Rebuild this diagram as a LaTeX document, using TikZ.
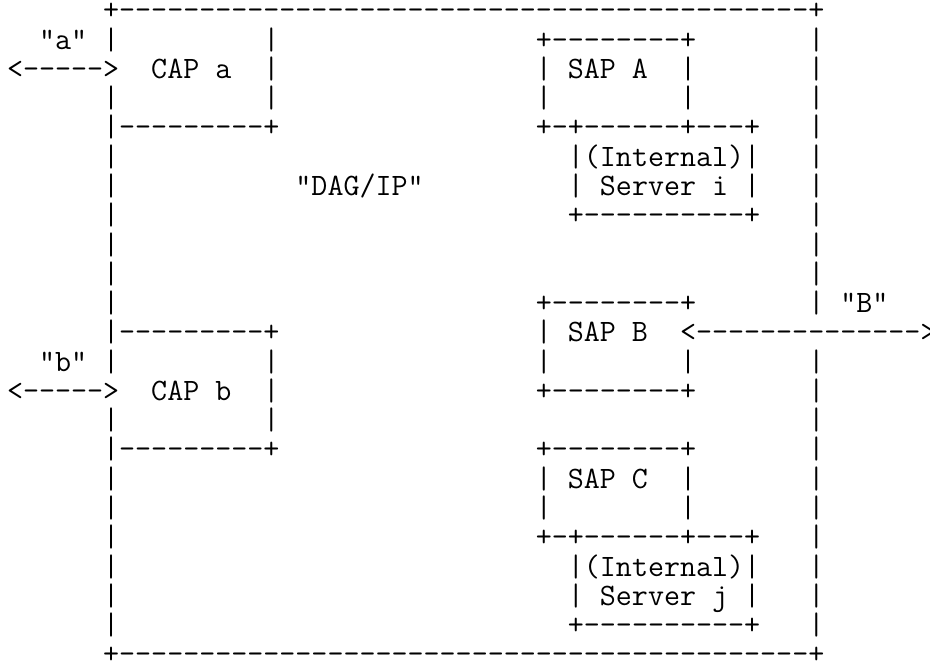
\documentclass[tikz,border=0pt]{standalone}
\usepackage{fontspec}
\newfontfamily\asciifont{Latin Modern Mono}[Ligatures=TeXOff]
\newcommand\blanks[1]{\hspace*{#1\fontdimen2\font}}

\begin{document}
\begin{tikzpicture}[x=8pt,y=-14.635pt,
    every node/.style={inner sep=0pt,outer sep=0pt},
    asciirow/.style={anchor=base west,font=\asciifont\fontsize{15.559}{18}\selectfont}
    ]
    \path[fill=white] (0,0) rectangle (58.125,22.686);
    \useasboundingbox (0,0) rectangle (58.125,22.686);
    % outer frame and the CAP / SAP boxes, one line of text each
    \node[asciirow] (row0) at (0.4375,0.68) {\blanks{6}+-------------------------------------------+};
    \node[asciirow] (row1) at (0.4375,1.68) {\blanks{2}"a"\blanks{1}|\blanks{9}|\blanks{16}+--------+\blanks{7}|};
    \node[asciirow] (row2) at (0.4375,2.68) {<----->\blanks{2}CAP a\blanks{2}|\blanks{16}| SAP A\blanks{2}|\blanks{7}|};
    \node[asciirow] (row3) at (0.4375,3.68) {\blanks{6}|\blanks{9}|\blanks{16}|\blanks{8}|\blanks{7}|};
    \node[asciirow] (row4) at (0.4375,4.68) {\blanks{6}|---------+\blanks{16}+-+------+---+\blanks{3}|};
    \node[asciirow] (row5) at (0.4375,5.68) {\blanks{6}|\blanks{28}|(Internal)|\blanks{3}|};
    \node[asciirow] (row6) at (0.4375,6.68) {\blanks{6}|\blanks{11}"DAG/IP"\blanks{9}| Server i |\blanks{3}|};
    \node[asciirow] (row7) at (0.4375,7.68) {\blanks{6}|\blanks{28}+----------+\blanks{3}|};
    \node[asciirow] (row8) at (0.4375,8.68) {\blanks{6}|\blanks{43}|};
    \node[asciirow] (row9) at (0.4375,9.68) {\blanks{6}|\blanks{43}|};
    \node[asciirow] (row10) at (0.4375,10.68) {\blanks{6}|\blanks{26}+--------+\blanks{7}|\blanks{1}"B"};
    \node[asciirow] (row11) at (0.4375,11.68) {\blanks{6}|---------+\blanks{16}| SAP B\blanks{2}<-------------->};
    \node[asciirow] (row12) at (0.4375,12.68) {\blanks{2}"b"\blanks{1}|\blanks{9}|\blanks{16}|\blanks{8}|\blanks{7}|};
    \node[asciirow] (row13) at (0.4375,13.68) {<----->\blanks{2}CAP b\blanks{2}|\blanks{16}+--------+\blanks{7}|};
    \node[asciirow] (row14) at (0.4375,14.68) {\blanks{6}|\blanks{9}|\blanks{33}|};
    \node[asciirow] (row15) at (0.4375,15.68) {\blanks{6}|---------+\blanks{16}+--------+\blanks{7}|};
    \node[asciirow] (row16) at (0.4375,16.68) {\blanks{6}|\blanks{26}| SAP C\blanks{2}|\blanks{7}|};
    \node[asciirow] (row17) at (0.4375,17.68) {\blanks{6}|\blanks{26}|\blanks{8}|\blanks{7}|};
    \node[asciirow] (row18) at (0.4375,18.68) {\blanks{6}|\blanks{26}+-+------+---+\blanks{3}|};
    \node[asciirow] (row19) at (0.4375,19.68) {\blanks{6}|\blanks{28}|(Internal)|\blanks{3}|};
    \node[asciirow] (row20) at (0.4375,20.68) {\blanks{6}|\blanks{28}| Server j |\blanks{3}|};
    \node[asciirow] (row21) at (0.4375,21.68) {\blanks{6}|\blanks{28}+----------+\blanks{3}|};
    \node[asciirow] (row22) at (0.4375,22.68) {\blanks{6}+-------------------------------------------+};
\end{tikzpicture}
\end{document}
